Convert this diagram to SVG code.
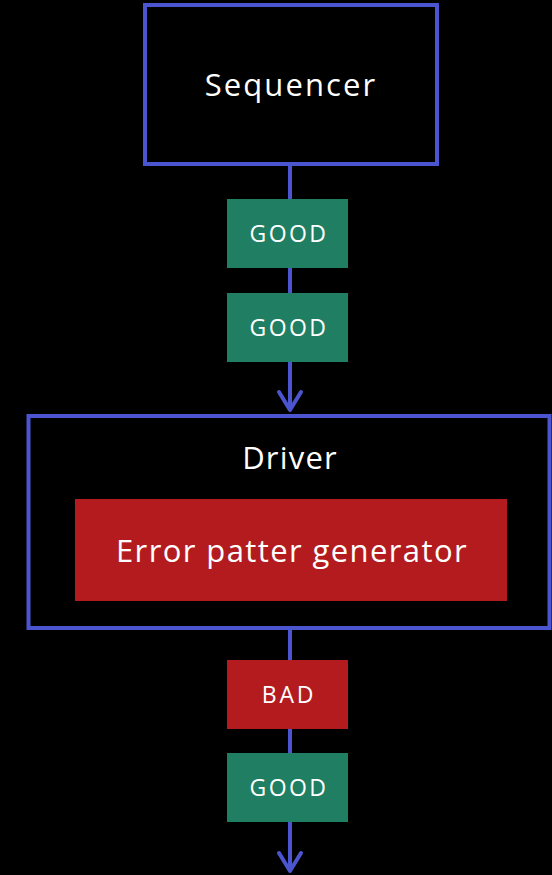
<svg xmlns="http://www.w3.org/2000/svg" width="552" height="875" viewBox="0 0 552 875">
  <style>
    .frame { fill: #000000; stroke: #4a55cf; stroke-width: 4; }
    .good { fill: #207f62; }
    .bad { fill: #b31b1f; }
    .wire { fill: none; stroke: #4a55cf; stroke-width: 4; }
    .head { fill: none; stroke: #4a55cf; stroke-width: 4; stroke-linecap: round; stroke-linejoin: round; }
    text { font-family: "Open Sans", "Noto Sans", sans-serif; fill: #ffffff; text-anchor: middle; }
    .big { font-size: 31px; }
    .tag { font-size: 23px; }
  </style>
  <rect width="552" height="875" fill="#000000"/>

  <g id="connectors">
    <line class="wire" x1="290" y1="164" x2="290" y2="409"/>
    <polyline class="head" points="279,392 290,410 301,392"/>
    <line class="wire" x1="290" y1="628" x2="290" y2="871"/>
    <polyline class="head" points="279,853 290,871 301,853"/>
  </g>

  <g id="sequencer">
    <rect class="frame" x="145" y="5" width="292" height="159"/>
    <text class="big" x="291" y="96" letter-spacing="2.1">Sequencer</text>
  </g>

  <g id="packet-1">
    <rect class="good" x="227" y="199" width="121" height="69"/>
    <text class="tag" x="289" y="242" letter-spacing="2.4">GOOD</text>
  </g>

  <g id="packet-2">
    <rect class="good" x="227" y="293" width="121" height="69"/>
    <text class="tag" x="289" y="336" letter-spacing="2.4">GOOD</text>
  </g>

  <g id="driver">
    <rect class="frame" x="28.5" y="416" width="521" height="212"/>
    <text class="big" x="290" y="469" letter-spacing="1.2">Driver</text>
  </g>

  <g id="error-pattern-generator">
    <rect class="bad" x="75" y="499" width="432" height="102"/>
    <text class="big" x="292" y="562" letter-spacing="1.4">Error patter generator</text>
  </g>

  <g id="packet-3">
    <rect class="bad" x="227" y="660" width="121" height="69"/>
    <text class="tag" x="289" y="703" letter-spacing="2.8">BAD</text>
  </g>

  <g id="packet-4">
    <rect class="good" x="227" y="753" width="121" height="69"/>
    <text class="tag" x="289" y="796" letter-spacing="2.4">GOOD</text>
  </g>
</svg>
